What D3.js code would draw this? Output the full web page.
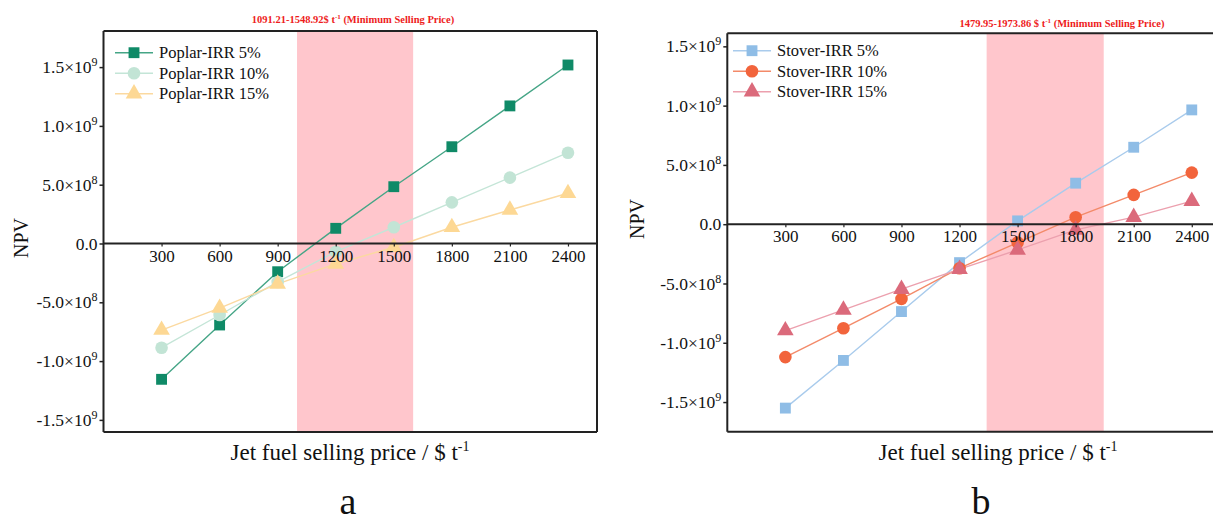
<!DOCTYPE html>
<html><head><meta charset="utf-8">
<script src="https://cdn.jsdelivr.net/npm/d3@7"></script>
<style>
html,body{margin:0;padding:0;background:#fff;}
svg{display:block;font-family:"Liberation Serif","Times New Roman",serif;}
</style></head>
<body><svg id="chart" width="1213" height="524"></svg>
<script>
// ---------- data ----------
const prices = [300, 600, 900, 1200, 1500, 1800, 2100, 2400];
const xTickValues = [300, 600, 900, 1200, 1500, 1800, 2100, 2400];
const yTickValues = [-1.5e9, -1.0e9, -5e8, 0, 5e8, 1.0e9, 1.5e9];
const yTickMantissa = ["-1.5", "-1.0", "-5.0", "0.0", "5.0", "1.0", "1.5"];
const yTickExponent = ["9", "9", "8", "", "8", "9", "9"];

const poplarNames = ["Poplar-IRR 5%", "Poplar-IRR 10%", "Poplar-IRR 15%"];
const poplar5  = [-1.155e9, -6.93e8, -2.40e8, 1.29e8, 4.83e8, 8.23e8, 1.17e9, 1.518e9];
const poplar10 = [-8.86e8, -6.08e8, -3.27e8, -0.70e8, 1.38e8, 3.50e8, 5.60e8, 7.72e8];
const poplar15 = [-7.36e8, -5.49e8, -3.44e8, -1.74e8, -0.32e8, 1.38e8, 2.85e8, 4.27e8];
const poplarBand = [1000, 1600];
const poplarTitle = "1091.21-1548.92$ t";

const stoverNames = ["Stover-IRR 5%", "Stover-IRR 10%", "Stover-IRR 15%"];
const stover5  = [-1.551e9, -1.149e9, -7.37e8, -3.24e8, 0.28e8, 3.46e8, 6.49e8, 9.64e8];
const stover10 = [-1.121e9, -8.77e8, -6.30e8, -3.71e8, -1.55e8, 0.59e8, 2.47e8, 4.35e8];
const stover15 = [-8.97e8, -7.23e8, -5.48e8, -3.79e8, -2.17e8, -0.48e8, 0.60e8, 1.95e8];
const stoverBand = [1340, 1945];
const stoverTitle = "1479.95-1973.86 $ t";

// ---------- drawing ----------
const svg = d3.select("#chart");

const panels = [
  {
    left: 103.5, right: 597, top: 31, bottom: 432, yDomain: [-1.603e9, 1.807e9],
    band: poplarBand, title: poplarTitle, titleX: 353, titleY: 23,
    names: poplarNames, values: [poplar5, poplar10, poplar15],
    markerColors: ["#0f8a67", "#c2e4d5", "#fdd894"],
    lineColors: ["#45a586", "#c4e5d7", "#fbd9a0"],
    legendX: 115, legendY: 52.7, npvX: 21, npvY: 238, xTitleX: 350, letter: "a", letterX: 348
  },
  {
    left: 727.3, right: 1220, top: 33.3, bottom: 431.7, yDomain: [-1.75e9, 1.61e9],
    band: stoverBand, title: stoverTitle, titleX: 1062, titleY: 27,
    names: stoverNames, values: [stover5, stover10, stover15],
    markerColors: ["#8fbde6", "#f2643c", "#db6a7b"],
    lineColors: ["#a9cbec", "#f38a69", "#eca0ae"],
    legendX: 733, legendY: 50.7, npvX: 637, npvY: 219, xTitleX: 998, letter: "b", letterX: 981
  }
];
const symbols = [d3.symbolSquare, d3.symbolCircle, d3.symbolTriangle];
const symSizes = [118, 125, 120];

panels.forEach(p => {
  const g = svg.append("g");
  const x = d3.scaleLinear().domain([0, 2550]).range([p.left, p.left + 493.5]);
  const y = d3.scaleLinear().domain(p.yDomain).range([p.bottom, p.top]);

  const clipId = "clip" + p.letter;
  svg.append("clipPath").attr("id", clipId).append("rect")
    .attr("x", p.left).attr("y", p.top).attr("width", p.right - p.left).attr("height", p.bottom - p.top);

  // band
  g.append("rect").attr("clip-path", `url(#${clipId})`)
    .attr("x", x(p.band[0])).attr("y", p.top)
    .attr("width", x(p.band[1]) - x(p.band[0])).attr("height", p.bottom - p.top)
    .attr("fill", "#ffc6cc");

  // red title
  const t = g.append("text").attr("x", p.titleX).attr("y", p.titleY).attr("text-anchor", "middle")
    .attr("font-size", 10.5).attr("font-weight", "bold").attr("fill", "#ee1c1c");
  t.append("tspan").text(p.title);
  t.append("tspan").attr("dy", -4).attr("font-size", 7).text("-1");
  t.append("tspan").attr("dy", 4).text(" (Minimum Selling Price)");

  // series
  p.values.forEach((vals, i) => {
    const pts = prices.map((pr, k) => [x(pr), y(vals[k])]);
    g.append("path").attr("d", d3.line()(pts)).attr("fill", "none")
      .attr("stroke", p.lineColors[i]).attr("stroke-width", 1.4);
  });
  p.values.forEach((vals, i) => {
    g.selectAll(null).data(prices).enter().append("path")
      .attr("transform", (d, k) => `translate(${x(d)},${y(vals[k])})`)
      .attr("d", d3.symbol().type(symbols[i]).size(symSizes[i]))
      .attr("fill", p.markerColors[i]);
  });

  // frame
  const frameColor = "#222";
  g.append("line").attr("x1", p.left).attr("x2", p.right).attr("y1", p.top).attr("y2", p.top).attr("stroke", frameColor).attr("stroke-width", 2);
  g.append("line").attr("x1", p.left).attr("x2", p.right).attr("y1", p.bottom).attr("y2", p.bottom).attr("stroke", frameColor).attr("stroke-width", 2);
  g.append("line").attr("x1", p.left).attr("x2", p.left).attr("y1", p.top).attr("y2", p.bottom).attr("stroke", frameColor).attr("stroke-width", 2);
  g.append("line").attr("x1", p.right).attr("x2", p.right).attr("y1", p.top).attr("y2", p.bottom).attr("stroke", frameColor).attr("stroke-width", 2);

  // zero x axis
  const xAxis = d3.axisBottom(x).tickValues(xTickValues).tickSize(3).tickPadding(3).tickFormat(d3.format("d"));
  const xa = g.append("g").attr("transform", `translate(0,${y(0)})`).call(xAxis);
  xa.attr("font-family", null);
  xa.select(".domain").remove();
  g.append("line").attr("x1", p.left).attr("x2", p.right).attr("y1", y(0)).attr("y2", y(0)).attr("stroke", frameColor).attr("stroke-width", 2);
  xa.selectAll("line").attr("stroke", frameColor).attr("stroke-width", 1.2);
  xa.selectAll("text").attr("font-family", "Liberation Serif").attr("font-size", 17).attr("fill", "#111");

  // y axis
  const yAxis = d3.axisLeft(y).tickValues(yTickValues).tickSize(4).tickPadding(2).tickFormat("");
  const ya = g.append("g").attr("transform", `translate(${p.left},0)`).call(yAxis);
  ya.select(".domain").remove();
  ya.selectAll("line").attr("stroke", frameColor).attr("stroke-width", 1.5);
  yTickValues.forEach((v, i) => {
    const tt = g.append("text").attr("x", p.left - 6).attr("y", y(v)).attr("dy", "0.35em")
      .attr("text-anchor", "end").attr("font-size", 17.5).attr("fill", "#111");
    if (yTickExponent[i]) {
      tt.append("tspan").text(yTickMantissa[i] + "\u00d710");
      tt.append("tspan").attr("dy", -7).attr("font-size", 12).text(yTickExponent[i]);
    } else {
      tt.append("tspan").text(yTickMantissa[i]);
    }
  });

  // legend
  p.names.forEach((name, i) => {
    const ly = p.legendY + i * 20.5;
    g.append("line").attr("x1", p.legendX).attr("x2", p.legendX + 38).attr("y1", ly).attr("y2", ly)
      .attr("stroke", p.lineColors[i]).attr("stroke-width", 1.6);
    g.append("path").attr("transform", `translate(${p.legendX + 19},${ly})`)
      .attr("d", d3.symbol().type(symbols[i]).size(symSizes[i])).attr("fill", p.markerColors[i]);
    g.append("text").attr("x", p.legendX + 44).attr("y", ly).attr("dy", "0.35em")
      .attr("font-size", 16.5).attr("fill", "#111").text(name);
  });

  // axis titles
  g.append("text").attr("transform", `translate(${p.npvX},${p.npvY}) rotate(-90)`)
    .attr("text-anchor", "middle").attr("dy", "0.35em").attr("font-size", 20).attr("fill", "#111").text("NPV");
  const xt = g.append("text").attr("x", p.xTitleX).attr("y", 460).attr("text-anchor", "middle")
    .attr("font-size", 23).attr("fill", "#111");
  xt.append("tspan").text("Jet fuel selling price / $ t");
  xt.append("tspan").attr("dy", -9).attr("font-size", 14).text("-1");

  g.append("text").attr("x", p.letterX).attr("y", 514).attr("text-anchor", "middle")
    .attr("font-size", 38).attr("fill", "#111").text(p.letter);
});
</script></body></html>
